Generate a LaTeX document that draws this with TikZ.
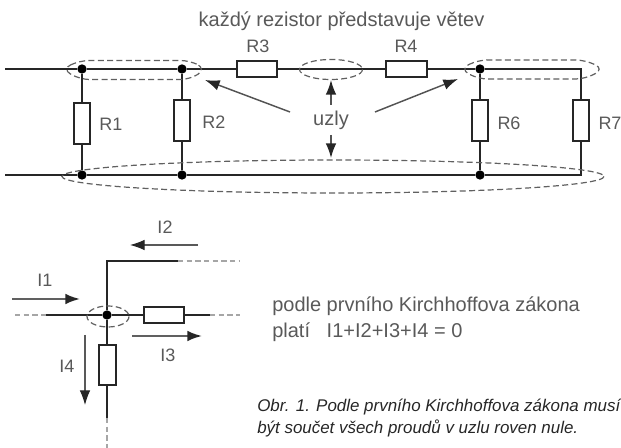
\documentclass[tikz,border=0pt]{standalone}
\usepackage{fontspec}
\setmainfont{Liberation Sans}
\usetikzlibrary{arrows.meta,calc}
\definecolor{wirec}{gray}{0.15}
\definecolor{textc}{gray}{0.35}
\tikzset{
 x=0.75pt,y=-0.75pt,
 wire/.style={draw=wirec,line width=1.7pt},
 faded/.style={draw=gray!70,line width=1pt,dash pattern=on 4pt off 2.5pt},
 resv/.style={draw=wirec,fill=white,line width=1.7pt,minimum width=12.5pt,minimum height=30.5pt,inner sep=0pt,outer sep=0pt},
 resh/.style={draw=wirec,fill=white,line width=1.7pt,minimum width=30.5pt,minimum height=12pt,inner sep=0pt,outer sep=0pt},
 junction/.style={circle,fill=black,minimum size=7pt,inner sep=0pt,outer sep=0pt},
 nodering/.style={draw=gray!75!black,line width=0.9pt,dash pattern=on 4.5pt off 2.5pt},
 lbl/.style={text=textc,font=\fontsize{13.5pt}{16pt}\selectfont,inner sep=0pt},
 big/.style={text=textc,font=\fontsize{15pt}{18pt}\selectfont,inner sep=0pt},
 cur/.style={draw=gray!75!black,line width=1.5pt,-{Latex[length=11pt,width=8pt,color=black!85]}},
 curthin/.style={draw=gray!70!black,line width=0.9pt,-{Latex[length=11pt,width=8pt,color=black!85]}},
 ptr/.style={draw=gray!65!black,line width=1.1pt,-{Latex[length=11pt,width=8pt,color=black!85]}},
}
\begin{document}
\begin{tikzpicture}
\useasboundingbox (0,0) rectangle (621,448);
\coordinate (tl) at (5,69);
\coordinate (bl) at (5,175);
\node[junction] (j1) at (82,69) {};
\node[junction] (j2) at (182,69) {};
\node[junction] (j3) at (480,69) {};
\node[junction] (j4) at (82,175) {};
\node[junction] (j5) at (182,175) {};
\node[junction] (j6) at (480,175) {};
\coordinate (ctr) at (581,69);
\coordinate (cbr) at (581,175);
\draw[wire] (tl) -- (j1) -- (j2) -- (j3) -- (ctr) -- (cbr) -- (j6) -- (j5) -- (j4) -- (bl);
\draw[wire] (j1) -- (j4);
\draw[wire] (j2) -- (j5);
\draw[wire] (j3) -- (j6);
\node[resv] (R1) at (82,123.5) {};
\node[resv] (R2) at (182,120.5) {};
\node[resv] (R6) at (480,120.5) {};
\node[resv] (R7) at (581,120.5) {};
\node[resh] (R3) at (257,69) {};
\node[resh] (R4) at (406.5,69) {};
\node[lbl] (lR1) at (111,124) {R1};
\node[lbl] (lR2) at (214,122) {R2};
\node[lbl] (lR3) at (258,46) {R3};
\node[lbl] (lR4) at (406,46) {R4};
\node[lbl] (lR6) at (509,123) {R6};
\node[lbl] (lR7) at (610,123) {R7};
\node[big] (title) at (341.5,21) {každý rezistor představuje větev};
% dashed rings
\draw[nodering,rounded corners=7pt] (62,69) -- (80,60.5) -- (190,60.5) -- (206,69) -- (190,79.5) -- (80,79.5) -- cycle;
\draw[nodering] (331,69.5) ellipse (31.5 and 10);
\draw[nodering,rounded corners=7pt] (460,69) -- (478,60) -- (585,60) -- (604,69) -- (585,79) -- (478,79) -- cycle;
\draw[nodering] (333,176.5) ellipse (271 and 16.5);
% pointers
\node[big] (uzly) at (331,120) {uzly};
\coordinate (pa) at (205,80);
\coordinate (pb) at (458,79);
\coordinate (pc) at (331,80);
\coordinate (pd) at (331,158);
\draw[ptr] (290,112) -- (pa);
\draw[ptr] (375,112) -- (pb);
\coordinate (ua) at (331,105);
\coordinate (ub) at (331,135);
\draw[ptr] (ua) -- (pc);
\draw[ptr] (ub) -- (pd);
% lower detail
\node[junction] (k) at (107,315) {};
\coordinate (c1) at (107,261);
\coordinate (c2) at (178,261);
\coordinate (c3) at (240,261);
\coordinate (w1) at (46,315);
\coordinate (w0) at (15,315);
\coordinate (e1) at (210,315);
\coordinate (e2) at (240,315);
\coordinate (s1) at (107,418);
\coordinate (s2) at (107,448);
\draw[wire] (c2) -- (c1) -- (k);
\draw[wire] (w1) -- (k) -- (e1);
\draw[wire] (k) -- (s1);
\draw[faded] (c2) -- (c3);
\draw[faded] (w0) -- (w1);
\draw[faded] (e1) -- (e2);
\draw[faded] (s1) -- (s2);
\node[resh] (Rh) at (164,315) {};
\node[resv] (Rv) at (107.5,365) {};
\draw[nodering] (108,316.5) ellipse (21 and 10.5);
\coordinate (i1a) at (12,299);
\coordinate (i1b) at (80,299);
\coordinate (i2a) at (198,245);
\coordinate (i2b) at (130,245);
\coordinate (i3a) at (132,336);
\coordinate (i3b) at (202,336);
\coordinate (i4a) at (85,335);
\coordinate (i4b) at (85,405);
\draw[cur] (i1a) -- (i1b);
\draw[curthin] (i2a) -- (i2b);
\draw[cur] (i3a) -- (i3b);
\draw[curthin] (i4a) -- (i4b);
\node[lbl] (lI1) at (45,280) {I1};
\node[lbl] (lI2) at (165,227) {I2};
\node[lbl] (lI3) at (168,355) {I3};
\node[lbl] (lI4) at (67,366) {I4};
\node[big,anchor=base west] (t1) at (272,312) {podle prvního Kirchhoffova zákona};
\node[big,anchor=base west] (t2) at (272,338) {platí\ \ \ I1+I2+I3+I4 = 0};
\node[anchor=base west,inner sep=0pt,text=black!85,font=\fontsize{12.7pt}{15pt}\selectfont\itshape] (c1t) at (257,412) {Obr. 1. Podle prvního Kirchhoffova zákona musí};
\node[anchor=base west,inner sep=0pt,text=black!85,font=\fontsize{12.7pt}{15pt}\selectfont\itshape] (c2t) at (257,434) {být součet všech proudů v uzlu roven nule.};
\end{tikzpicture}
\end{document}
